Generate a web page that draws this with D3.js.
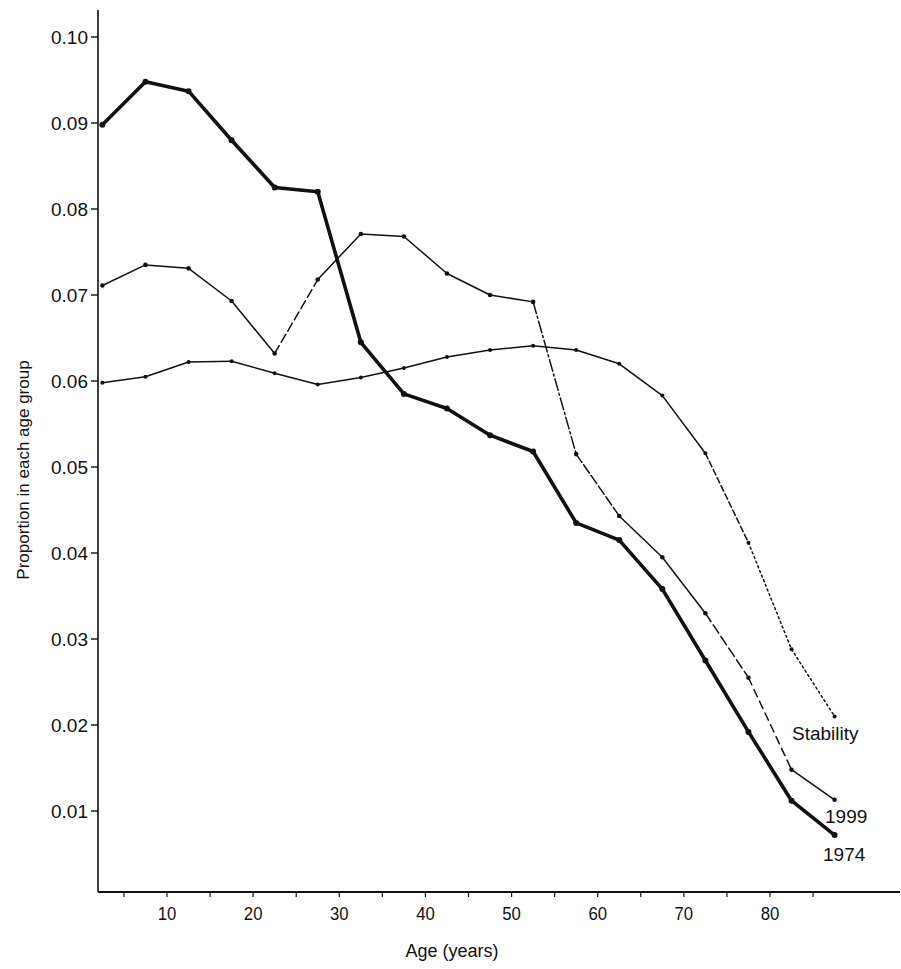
<!DOCTYPE html>
<html>
<head>
<meta charset="utf-8">
<script src="https://cdn.jsdelivr.net/npm/d3@7"></script>
<style>
  body { margin: 0; background: #fff; }
  text { font-family: "Liberation Sans", Arial, sans-serif; fill: #111; }
</style>
</head>
<body>
<svg id="chart" width="901" height="969"></svg>
<script>
// age group midpoints
const ages = [2.5, 7.5, 12.5, 17.5, 22.5, 27.5, 32.5, 37.5, 42.5, 47.5, 52.5, 57.5, 62.5, 67.5, 72.5, 77.5, 82.5, 87.5];
const pop1974 = [0.0898, 0.0948, 0.0937, 0.0880, 0.0825, 0.0820, 0.0645, 0.0585, 0.0568, 0.0537, 0.0518, 0.0435, 0.0415, 0.0358, 0.0275, 0.0192, 0.0112, 0.0072];
const pop1999 = [0.0711, 0.0735, 0.0731, 0.0693, 0.0632, 0.0718, 0.0771, 0.0768, 0.0725, 0.0700, 0.0692, 0.0515, 0.0443, 0.0395, 0.0330, 0.0255, 0.0148, 0.0113];
const stability = [0.0598, 0.0605, 0.0622, 0.0623, 0.0609, 0.0596, 0.0604, 0.0615, 0.0628, 0.0636, 0.0641, 0.0636, 0.0620, 0.0583, 0.0516, 0.0412, 0.0288, 0.0210];
const yTicks = [0.01, 0.02, 0.03, 0.04, 0.05, 0.06, 0.07, 0.08, 0.09, 0.10];
const xLabels = [10, 20, 30, 40, 50, 60, 70, 80];
const xTicks = d3.range(5, 90, 5);

const svg = d3.select("#chart");

const x = d3.scaleLinear().domain([10, 80]).range([167, 770]);
const y = d3.scaleLinear().domain([0.09, 0.01]).range([123, 811]);

const axisLeft = 98, axisBottom = 892;

// Y axis
svg.append("line").attr("x1", axisLeft).attr("x2", axisLeft)
  .attr("y1", 10).attr("y2", axisBottom).attr("stroke", "#111").attr("stroke-width", 1.6);
yTicks.forEach(v => {
  svg.append("line").attr("x1", axisLeft - 7).attr("x2", axisLeft)
    .attr("y1", y(v)).attr("y2", y(v)).attr("stroke", "#111").attr("stroke-width", 1.4);
  svg.append("text").attr("x", axisLeft - 10).attr("y", y(v)).attr("dy", "0.35em")
    .attr("text-anchor", "end").style("font-size", "19px").text(d3.format(".2f")(v));
});

// X axis
svg.append("line").attr("x1", axisLeft).attr("x2", 900)
  .attr("y1", axisBottom).attr("y2", axisBottom).attr("stroke", "#111").attr("stroke-width", 2.2);
xTicks.forEach(a => {
  svg.append("line").attr("x1", x(a)).attr("x2", x(a))
    .attr("y1", axisBottom).attr("y2", axisBottom + 5).attr("stroke", "#111").attr("stroke-width", 1.2);
});
xLabels.forEach(a => {
  svg.append("text").attr("x", 0).attr("y", 0)
    .attr("text-anchor", "middle")
    .attr("transform", `translate(${x(a)},${axisBottom + 28}) scale(0.88,1)`)
    .style("font-size", "19px").text(a);
});

svg.append("text").attr("x", 452).attr("y", 957).attr("text-anchor", "middle")
  .style("font-size", "18px").text("Age (years)");
svg.append("text").attr("transform", "translate(23,470) rotate(-90)")
  .attr("text-anchor", "middle").attr("dy", "0.35em").style("font-size", "17px")
  .text("Proportion in each age group");

// draw a series segment by segment so some can be dashed
function drawSeries(vals, width, dashes, r) {
  const g = svg.append("g");
  for (let i = 0; i < ages.length - 1; i++) {
    g.append("line")
      .attr("x1", x(ages[i])).attr("y1", y(vals[i]))
      .attr("x2", x(ages[i + 1])).attr("y2", y(vals[i + 1]))
      .attr("stroke", "#111").attr("stroke-width", width)
      .attr("stroke-linecap", "round")
      .attr("stroke-dasharray", dashes[i] || null);
  }
  g.selectAll("circle").data(ages).join("circle")
    .attr("cx", d => x(d)).attr("cy", (d, i) => y(vals[i])).attr("r", r).attr("fill", "#111");
}

drawSeries(pop1974, 3.6, {}, 3);
drawSeries(pop1999, 1.5, { 4: "9,4", 10: "12,3,2,3", 11: "10,3", 14: "10,4", 15: "8,5" }, 2.3);
drawSeries(stability, 1.5, { 14: "6,3", 15: "2,3", 16: "2,3" }, 2);

// series labels
svg.append("text").attr("x", 792).attr("y", 740).style("font-size", "19px").text("Stability");
svg.append("text").attr("x", 825).attr("y", 823).style("font-size", "19px").text("1999");
svg.append("text").attr("x", 823).attr("y", 861).style("font-size", "19px").text("1974");
</script>
</body>
</html>
